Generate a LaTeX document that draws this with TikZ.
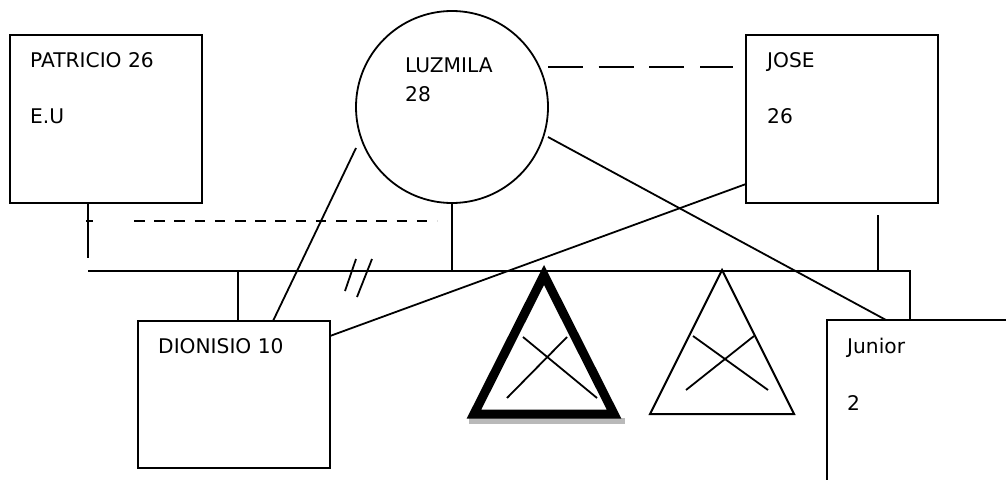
\documentclass[tikz,border=0pt]{standalone}
\usepackage{fontspec}
\setmainfont{DejaVu Sans}
\begin{document}
\begin{tikzpicture}[x=1pt,y=-1pt,
  ln/.style={line width=1.8pt},
  box/.style={draw,line width=1.8pt,rectangle,inner sep=0pt},
  lbl/.style={anchor=base west,inner sep=0pt,font=\fontsize{20.2}{24}\selectfont}]
\clip (0,0) rectangle (1006,479);
% boxes
\node[box,minimum width=192pt,minimum height=168pt] (pat) at (106,119) {};
\node[box,minimum width=192pt,minimum height=168pt] (jose) at (842,119) {};
\node[box,minimum width=192pt,minimum height=147pt] (dion) at (234,394.5) {};
\node[box,minimum width=200pt,minimum height=200pt] (jun) at (927,420) {};
\node[draw,circle,line width=1.8pt,minimum size=192pt,inner sep=0pt] (luz) at (452,107) {};
% labels
\node[lbl] (t1) at (30,67) {PATRICIO 26};
\node[lbl] (t2) at (30,123) {E.U};
\node[lbl] (t3) at (405,72) {LUZMILA};
\node[lbl] (t4) at (405,101) {28};
\node[lbl] (t5) at (767,67) {JOSE};
\node[lbl] (t6) at (767,123) {26};
\node[lbl] (t7) at (158,353) {DIONISIO 10};
\node[lbl] (t8) at (847,353) {Junior};
\node[lbl] (t9) at (847,410) {2};
% coordinates
\coordinate (patb) at (88,203);
\coordinate (patd) at (88,258);
\coordinate (mL) at (88,271);
\coordinate (mR) at (910,271);
\coordinate (junT) at (910,320);
\coordinate (luzm) at (452,271);
\coordinate (joseb) at (878,215);
\coordinate (josem) at (878,271);
\coordinate (dionm) at (238,271);
\coordinate (diont) at (238,321);
\coordinate (luzl) at (356,148);
\coordinate (diontr) at (273,321);
\coordinate (josel) at (746,184);
\coordinate (dionr) at (330,336);
\coordinate (luzr) at (548,137);
\coordinate (junt2) at (886,320);
% connectors
\draw[ln] (patb) -- (patd);
\draw[ln] (mL) -- (mR) -- (junT);
\draw[ln] (luz.south) -- (luzm);
\draw[ln] (joseb) -- (josem);
\draw[ln] (dionm) -- (diont);
\draw[ln] (luzl) -- (diontr);
\draw[ln] (josel) -- (dionr);
\draw[ln] (luzr) -- (junt2);
% dashed lines
\coordinate (d1a) at (86,221);
\coordinate (d1b) at (93,221);
\coordinate (d2a) at (134,221);
\coordinate (d2b) at (437,221);
\draw[line width=2.6pt] (d1a) -- (d1b);
\draw[line width=2.6pt,dash pattern=on 10.5pt off 9.7pt] (d2a) -- (d2b);
\coordinate (d3a) at (548,67);
\coordinate (d3b) at (733,67);
\draw[ln,dash pattern=on 35pt off 15.7pt] (d3a) -- (d3b);
% double slash
\coordinate (s1a) at (356,259);
\coordinate (s1b) at (345,291);
\coordinate (s2a) at (372,259);
\coordinate (s2b) at (357,297);
\draw[ln] (s1a) -- (s1b);
\draw[ln] (s2a) -- (s2b);
% thick triangle with shadow
\fill[gray!55] (469,418) rectangle (625,424);
\coordinate (ta) at (544,275);
\coordinate (tl) at (474,414);
\coordinate (tr) at (614,414);
\draw[line width=9pt,miter limit=10] (ta) -- (tr) -- (tl) -- cycle;
\coordinate (x1a) at (523,337);
\coordinate (x1b) at (597,398);
\coordinate (x2a) at (567,337);
\coordinate (x2b) at (507,398);
\draw[ln] (x1a) -- (x1b);
\draw[ln] (x2a) -- (x2b);
% thin triangle
\coordinate (ua) at (722,270);
\coordinate (ul) at (650,414);
\coordinate (ur) at (794,414);
\draw[line width=2pt] (ua) -- (ur) -- (ul) -- cycle;
\coordinate (y1a) at (693,336);
\coordinate (y1b) at (768,390);
\coordinate (y2a) at (754,336);
\coordinate (y2b) at (686,390);
\draw[ln] (y1a) -- (y1b);
\draw[ln] (y2a) -- (y2b);
\end{tikzpicture}
\end{document}
